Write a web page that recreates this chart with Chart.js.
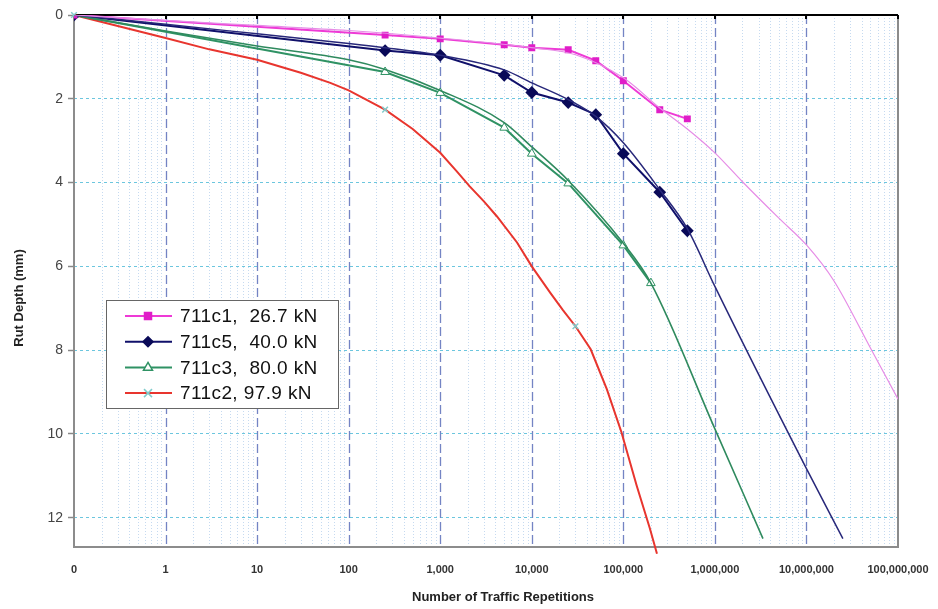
<!DOCTYPE html>
<html>
<head>
<meta charset="utf-8">
<script src="https://cdn.jsdelivr.net/npm/chart.js@4.4.0/dist/chart.umd.min.js"></script>
<style>
  html, body { margin: 0; padding: 0; background: #fff; }
  #wrap { width: 938px; height: 609px; position: relative; }
</style>
</head>
<body>
<div id="wrap"><canvas id="rutChart"></canvas></div>
<script>
// N = 0 is drawn at the left edge of the log axis (labelled "0")
const ZERO_AT = 0.1;

const xTickValues = [0, 1, 10, 100, 1000, 10000, 100000, 1000000, 10000000, 100000000];
const xTickLabels = ['0', '1', '10', '100', '1,000', '10,000', '100,000', '1,000,000', '10,000,000', '100,000,000'];
const yTickValues = [0, 2, 4, 6, 8, 10, 12];

const seriesNames = ['711c1,  26.7 kN', '711c5,  40.0 kN', '711c3,  80.0 kN', '711c2, 97.9 kN'];

// measured points
const c1N = [0, 250, 1000, 5000, 10000, 25000, 50000, 100000, 250000, 500000];
const c1Depth = [0, 0.48, 0.57, 0.71, 0.78, 0.83, 1.09, 1.57, 2.26, 2.48];
const c5N = [0, 250, 1000, 5000, 10000, 25000, 50000, 100000, 250000, 500000];
const c5Depth = [0, 0.85, 0.96, 1.44, 1.85, 2.09, 2.38, 3.31, 4.23, 5.15];
const c3N = [0, 250, 1000, 5000, 10000, 25000, 100000, 200000];
const c3Depth = [0, 1.36, 1.86, 2.69, 3.31, 4.02, 5.5, 6.4];
const c2N = [0, 1, 3, 10, 30, 63, 100, 250, 500, 1000, 1500, 2100, 3000, 4170, 6900, 10000, 15800, 22000, 30000, 44000, 66000, 95000, 140000, 195000, 233000];
const c2Depth = [0, 0.55, 0.82, 1.07, 1.38, 1.62, 1.8, 2.26, 2.72, 3.29, 3.72, 4.09, 4.45, 4.81, 5.43, 6.0, 6.62, 7.05, 7.43, 7.98, 8.93, 9.95, 11.24, 12.26, 12.86];
const c2MarkedN = [0, 250, 30000];

// fitted curves
const c1FitN = [0, 1, 10, 100, 1000, 10000, 30000, 100000, 250000, 500000, 1000000, 2000000, 5000000, 10000000, 20000000, 50000000, 100000000];
const c1FitDepth = [0, 0.13, 0.25, 0.37, 0.55, 0.78, 0.95, 1.5, 2.22, 2.72, 3.29, 3.98, 4.85, 5.49, 6.35, 7.95, 9.17];
const c5FitN = [0, 1, 10, 100, 250, 1000, 5000, 10000, 25000, 50000, 100000, 250000, 500000, 1000000, 10000000, 25000000];
const c5FitDepth = [0, 0.22, 0.45, 0.68, 0.78, 0.96, 1.31, 1.62, 2.02, 2.42, 3.05, 4.17, 5.1, 6.48, 10.83, 12.5];
const c3FitN = [0, 1, 10, 100, 250, 1000, 5000, 10000, 25000, 100000, 200000, 1000000, 3350000];
const c3FitDepth = [0, 0.38, 0.74, 1.07, 1.3, 1.8, 2.57, 3.15, 3.95, 5.45, 6.4, 9.88, 12.5];

const toPoints = (ns, ds) => ns.map((n, i) => ({ x: n === 0 ? ZERO_AT : n, y: ds[i] }));

const FONT = '"Liberation Sans", Arial, sans-serif';
const pink = '#ee3ad6', navy = '#10106a', green = '#2f9264', red = '#e8352e';

function fitLine(data, color, width) {
  return {
    data: data, borderColor: color, borderWidth: width, pointRadius: 0,
    cubicInterpolationMode: 'monotone', fill: false
  };
}

const datasets = [
  fitLine(toPoints(c1FitN, c1FitDepth), '#e68ce6', 1.2),
  fitLine(toPoints(c5FitN, c5FitDepth), '#28287a', 1.5),
  fitLine(toPoints(c3FitN, c3FitDepth), '#2f8a5e', 1.6),
  {
    label: seriesNames[0], data: toPoints(c1N, c1Depth), borderColor: pink, borderWidth: 2,
    pointStyle: 'rect', pointRadius: 3.5, pointBackgroundColor: '#e01ec8', pointBorderColor: '#e01ec8'
  },
  {
    label: seriesNames[1], data: toPoints(c5N, c5Depth), borderColor: navy, borderWidth: 2,
    pointStyle: 'rectRot', pointRadius: 5, pointBackgroundColor: '#0a0a58', pointBorderColor: '#0a0a58'
  },
  {
    label: seriesNames[2], data: toPoints(c3N, c3Depth), borderColor: green, borderWidth: 2,
    pointStyle: 'triangle', pointRadius: 5, pointBackgroundColor: '#fff', pointBorderColor: green, pointBorderWidth: 1
  },
  {
    label: seriesNames[3], data: toPoints(c2N, c2Depth), borderColor: red, borderWidth: 2, clip: false,
    pointStyle: 'crossRot', pointBorderColor: '#80cccc', pointBorderWidth: 1.5,
    pointRadius: ctx => c2MarkedN.includes(c2N[ctx.dataIndex]) ? 4 : 0
  }
];

const legendItems = [
  { line: pink, style: 'rect', fill: '#e01ec8', stroke: '#e01ec8', r: 3.5 },
  { line: navy, style: 'rectRot', fill: '#0a0a58', stroke: '#0a0a58', r: 5 },
  { line: green, style: 'triangle', fill: '#fff', stroke: green, r: 5 },
  { line: red, style: 'crossRot', fill: null, stroke: '#80cccc', r: 4 }
];

function drawMarker(ctx, it, x, y) {
  ctx.save();
  ctx.setLineDash([]);
  ctx.lineWidth = 1.5;
  ctx.strokeStyle = it.stroke;
  ctx.fillStyle = it.fill || 'transparent';
  ctx.beginPath();
  const r = it.r;
  if (it.style === 'rect') {
    ctx.rect(x - r, y - r, 2 * r, 2 * r);
  } else if (it.style === 'rectRot') {
    ctx.moveTo(x, y - r); ctx.lineTo(x + r, y); ctx.lineTo(x, y + r); ctx.lineTo(x - r, y); ctx.closePath();
  } else if (it.style === 'triangle') {
    ctx.moveTo(x, y - r); ctx.lineTo(x + r * 0.9, y + r * 0.55); ctx.lineTo(x - r * 0.9, y + r * 0.55); ctx.closePath();
  } else {
    ctx.moveTo(x - r, y - r); ctx.lineTo(x + r, y + r); ctx.moveTo(x + r, y - r); ctx.lineTo(x - r, y + r);
  }
  if (it.fill) ctx.fill();
  ctx.stroke();
  ctx.restore();
}

const framePlugin = {
  id: 'frame',
  beforeDatasetsDraw(chart) {
    const { ctx, chartArea: a, scales: { x } } = chart;
    ctx.save();
    // minor vertical grid
    ctx.strokeStyle = '#c6daf0';
    ctx.lineWidth = 1;
    ctx.setLineDash([1, 2]);
    for (let e = -1; e < 8; e++) {
      for (let m = 2; m <= 9; m++) {
        const px = Math.round(x.getPixelForValue(m * Math.pow(10, e))) + 0.5;
        ctx.beginPath(); ctx.moveTo(px, a.top); ctx.lineTo(px, a.bottom); ctx.stroke();
      }
    }
    // major vertical grid
    ctx.strokeStyle = '#7484c4';
    ctx.lineWidth = 1.3;
    ctx.setLineDash([9, 4]);
    xTickValues.slice(1, -1).forEach(v => {
      const px = Math.round(x.getPixelForValue(v)) + 0.5;
      ctx.beginPath(); ctx.moveTo(px, a.top); ctx.lineTo(px, a.bottom); ctx.stroke();
    });
    // plot border
    ctx.setLineDash([]);
    ctx.strokeStyle = '#8c8c8c';
    ctx.lineWidth = 2;
    ctx.beginPath();
    ctx.moveTo(a.left, a.top); ctx.lineTo(a.left, a.bottom); ctx.lineTo(a.right, a.bottom); ctx.lineTo(a.right, a.top);
    ctx.stroke();
    // top axis line with ticks
    ctx.strokeStyle = '#000';
    ctx.lineWidth = 2;
    ctx.beginPath(); ctx.moveTo(a.left, a.top); ctx.lineTo(a.right, a.top); ctx.stroke();
    xTickValues.slice(1).forEach(v => {
      const px = Math.round(x.getPixelForValue(v));
      ctx.beginPath(); ctx.moveTo(px, a.top); ctx.lineTo(px, a.top + 4); ctx.stroke();
    });
    ctx.restore();
  },
  afterDraw(chart) {
    const { ctx } = chart;
    ctx.save();
    // axis titles
    ctx.fillStyle = '#222';
    ctx.font = 'bold 13px ' + FONT;
    ctx.textAlign = 'center';
    ctx.textBaseline = 'middle';
    ctx.fillText('Number of Traffic Repetitions', 503, 597);
    ctx.translate(19, 298);
    ctx.rotate(-Math.PI / 2);
    ctx.fillText('Rut Depth (mm)', 0, 0);
    ctx.restore();

    // legend box
    ctx.save();
    const bx = 106, by = 300, bw = 232, bh = 108;
    ctx.fillStyle = '#fff';
    ctx.fillRect(bx, by, bw, bh);
    ctx.strokeStyle = '#666';
    ctx.lineWidth = 1;
    ctx.strokeRect(bx + 0.5, by + 0.5, bw, bh);
    ctx.font = '19px ' + FONT;
    ctx.letterSpacing = '0.4px';
    ctx.textBaseline = 'middle';
    ctx.textAlign = 'left';
    legendItems.forEach((it, i) => {
      const y = by + 16 + i * 25.7;
      ctx.strokeStyle = it.line;
      ctx.lineWidth = 2;
      ctx.beginPath(); ctx.moveTo(125, y); ctx.lineTo(172, y); ctx.stroke();
      drawMarker(ctx, it, 148, y);
      ctx.fillStyle = '#111';
      ctx.fillText(seriesNames[i], 180, y + 1);
    });
    ctx.restore();
  }
};

new Chart(document.getElementById('rutChart'), {
  type: 'line',
  data: { datasets: datasets },
  options: {
    responsive: true,
    maintainAspectRatio: false,
    animation: false,
    layout: { padding: { top: 15, right: 40, left: 0, bottom: 0 } },
    plugins: { legend: { display: false }, tooltip: { enabled: false } },
    elements: { line: { tension: 0 } },
    scales: {
      x: {
        type: 'logarithmic',
        min: ZERO_AT,
        max: 100000000,
        afterBuildTicks: s => { s.ticks = xTickValues.map(v => ({ value: v === 0 ? ZERO_AT : v })); },
        afterFit: s => { s.height = 62; s.paddingRight = 0; s.paddingLeft = 0; },
        grid: { display: false },
        border: { display: false },
        ticks: {
          autoSkip: false, maxRotation: 0, padding: 8,
          color: '#333', font: { family: FONT, size: 11, weight: 'bold' },
          callback: (v, i) => xTickLabels[i]
        }
      },
      y: {
        type: 'linear',
        reverse: true,
        min: 0,
        max: 12.7,
        afterBuildTicks: s => { s.ticks = yTickValues.map(v => ({ value: v })); },
        afterFit: s => { s.width = 74; },
        grid: { color: '#6cc6de', lineWidth: 1, tickColor: '#888', tickLength: 6, tickWidth: 1.5 },
        border: { display: false, dash: [3, 3] },
        ticks: { stepSize: 2, padding: 5, color: '#444', font: { family: FONT, size: 14 } }
      }
    }
  },
  plugins: [framePlugin]
});
</script>
</body>
</html>
